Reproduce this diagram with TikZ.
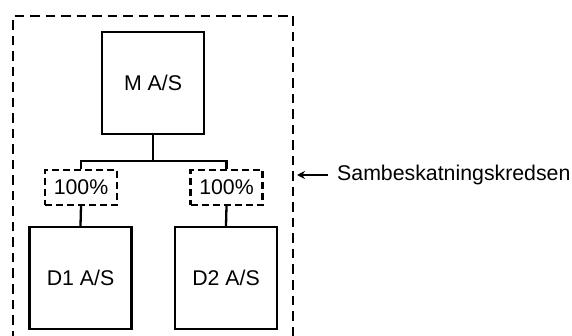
\documentclass[tikz,border=0pt]{standalone}
\usepackage{fontspec}
\setmainfont{Liberation Sans}
\usetikzlibrary{arrows.meta}
\begin{document}
\begin{tikzpicture}[x=1pt,y=-1pt,
  every node/.style={font=\fontsize{21.3}{25}\selectfont},
  company/.style={draw,line width=2.3pt,minimum width=102pt,minimum height=102pt,inner sep=0pt},
  share/.style={draw,line width=2.3pt,dash pattern=on 7pt off 4pt,minimum width=72pt,minimum height=35pt,inner sep=0pt},
  link/.style={line width=2.3pt}]
\useasboundingbox (0,0) rectangle (572,336);
% group boundary (continues below the page edge)
\draw[line width=2.3pt,dash pattern=on 9.5pt off 6pt] (13,340) -- (13,16) -- (293,16) -- (293,340);
\coordinate (B) at (293,175);
% companies
\node[company] (M) at (153,83) {M A/S};
\node[company] (D1) at (80.5,278) {D1 A/S};
\node[company] (D2) at (226,278) {D2 A/S};
% ownership shares
\node[share] (P1) at (81,187.5) {100\%};
\node[share] (P2) at (226.5,187.5) {100\%};
% ownership lines
\coordinate (J) at (153,161);
\draw[link] (M.south) -- (J);
\draw[link] (P1.north) |- (J) -| (P2.north);
\draw[link] (P1.south) -- (D1.north);
\draw[link] (P2.south) -- (D2.north);
% label
\node[anchor=west,inner sep=0pt] (L) at (337,175) {Sambeskatningskredsen};
\draw[line width=1.5pt,-{Stealth[length=8pt,width=8pt]},shorten <=9pt,shorten >=4pt] (L.west) -- (B);
\end{tikzpicture}
\end{document}
